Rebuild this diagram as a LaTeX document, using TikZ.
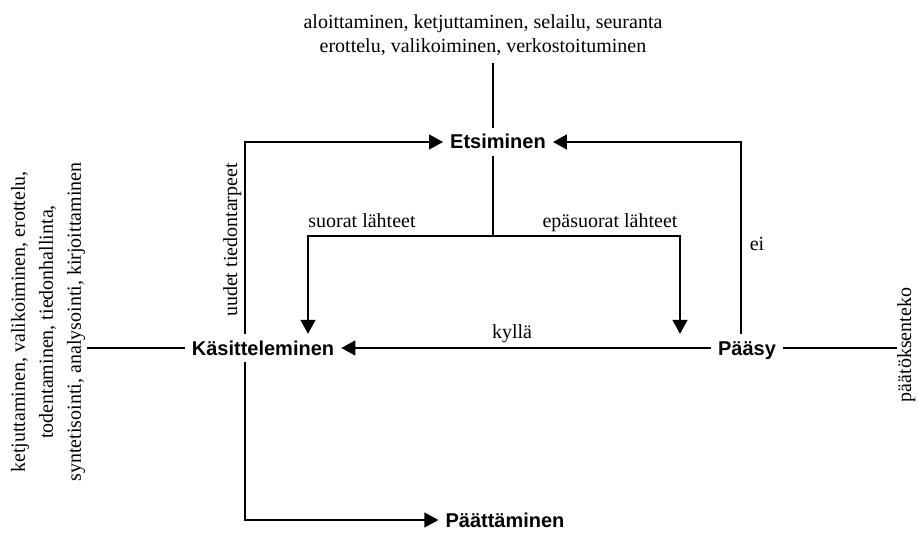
\documentclass[tikz,border=0pt]{standalone}
\usepackage{fontspec}
\setmainfont{Liberation Serif}
\newfontfamily\bsans{Liberation Sans}
\usetikzlibrary{arrows.meta}
\tikzset{
  x=1pt, y=-1pt,
  lbl/.style={font=\fontsize{20}{24}\selectfont, inner sep=0pt},
  stage/.style={font=\bsans\bfseries\fontsize{20}{24}\selectfont, text height=14pt, text depth=0pt, inner xsep=7pt, inner ysep=7pt},
  conn/.style={line width=1.4pt, draw=black},
  arr/.style={conn, -{Triangle[length=14pt,width=15pt]}},
}
\begin{document}
\begin{tikzpicture}
\useasboundingbox (0,0) rectangle (918,556);
% stages
\node[stage] (E) at (498,142) {Etsiminen};
\node[stage] (K) at (263,348) {Käsitteleminen};
\node[stage] (P) at (747,348) {Pääsy};
\node[stage] (Pa) at (505,520) {Päättäminen};
% activity texts
\node[lbl, align=center, inner sep=7pt] (T) at (483,35) {aloittaminen, ketjuttaminen, selailu, seuranta\\erottelu, valikoiminen, verkostoituminen};
\node[lbl, align=center, rotate=90, inner sep=2pt, font=\fontsize{20}{28}\selectfont] (LT) at (48,322) {ketjuttaminen, valikoiminen, erottelu,\\todentaminen, tiedonhallinta,\\syntetisointi, analysointi, kirjoittaminen};
\node[lbl, rotate=90, anchor=base] (RT) at (911,345) {päätöksenteko};
% connector labels
\node[lbl, rotate=90, anchor=base] (U) at (237,240) {uudet tiedontarpeet};
\node[lbl, anchor=base] (S) at (362,227) {suorat lähteet};
\node[lbl, anchor=base] (ES) at (610,227) {epäsuorat lähteet};
\node[lbl, anchor=base] (Ky) at (512,338) {kyllä};
\node[lbl, anchor=base] (Ei) at (757,250) {ei};
% helper coordinates
\coordinate (L) at (245,142);
\coordinate (R) at (741,142);
\coordinate (B) at (493,236);
\coordinate (BL) at (308,236);
\coordinate (BR) at (680,236);
% connectors
\draw[conn] (B |- T.south) -- (B |- E.north);
\draw[conn] (B |- E.south) -- (B);
\draw[conn, {Triangle[length=14pt,width=15pt]}-{Triangle[length=14pt,width=15pt]}] (BL |- K.north) -- (BL) -- (BR) -- (BR |- P.north);
\draw[arr] (K.north -| L) -- (L) -- (E.west);
\draw[arr] (P.north -| R) -- (R) -- (E.east);
\draw[arr] (P.west) -- (K.east);
\draw[arr] (K.south -| L) |- (Pa.west);
\draw[conn] (LT.south |- K) -- (K.west);
\draw[conn] (P.east) -- (RT.north |- P);
\end{tikzpicture}
\end{document}
